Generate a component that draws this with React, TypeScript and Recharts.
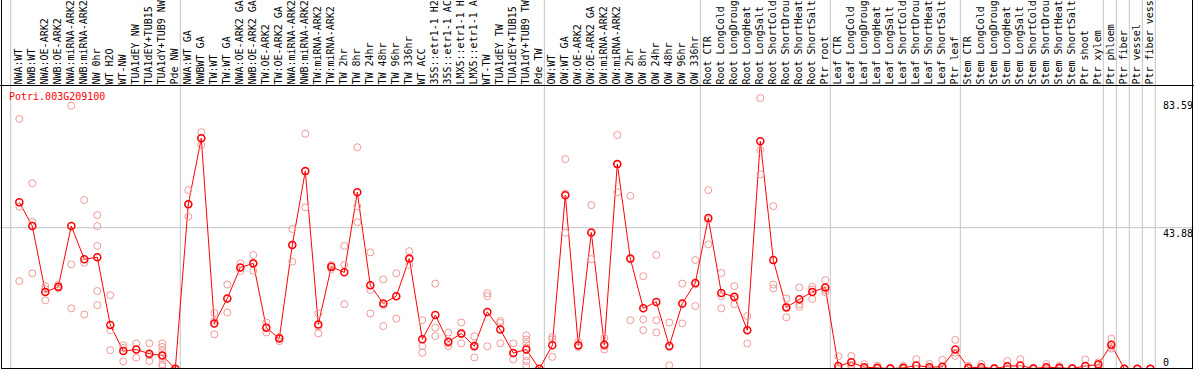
import React from 'react';
import { ComposedChart, Line, Scatter, XAxis, YAxis, ReferenceLine } from 'recharts';

// sample names, left to right
const labels = [
  'NWA:WT', 'NWB:WT', 'NWA:OE-ARK2', 'NWB:OE-ARK2', 'NWA:miRNA-ARK2', 'NWB:miRNA-ARK2',
  'NW 0hr', 'WT H2O', 'WT-NW', 'TUA1dEY NW', 'TUA1dEY+TUB15 NW', 'TUA1dY+TUB9 NW', 'Pde NW',
  'NWA:WT GA', 'NWBWT GA', 'TW:WT', 'TW:WT GA', 'NWA:OE-ARK2 GA', 'NWB:OE-ARK2 GA',
  'TW:OE-ARK2', 'TW:OE-ARK2 GA', 'NWA:miRNA-ARK2', 'NWB:miRNA-ARK2', 'TW:miRNA-ARK2',
  'TW:miRNA-ARK2', 'TW 2hr', 'TW 8hr', 'TW 24hr', 'TW 48hr', 'TW 96hr', 'TW 336hr', 'WT ACC',
  '35S::etr1-1 H2O', '35S::etr1-1 ACC', 'LMX5::etr1-1 H2O', 'LMX5::etr1-1 ACC', 'WT-TW',
  'TUA1dEY TW', 'TUA1dEY+TUB15 TW', 'TUA1dY+TUB9 TW', 'Pde TW',
  'OW:WT', 'OW:WT GA', 'OW:OE-ARK2', 'OW:OE-ARK2 GA', 'OW:miRNA-ARK2', 'OW:miRNA-ARK2',
  'OW 2hr', 'OW 8hr', 'OW 24hr', 'OW 48hr', 'OW 96hr', 'OW 336hr',
  'Root CTR', 'Root LongCold', 'Root LongDrought', 'Root LongHeat', 'Root LongSalt',
  'Root ShortCold', 'Root ShortDrought', 'Root ShortHeat', 'Root ShortSalt', 'Ptr root',
  'Leaf CTR', 'Leaf LongCold', 'Leaf LongDrought', 'Leaf LongHeat', 'Leaf LongSalt',
  'Leaf ShortCold', 'Leaf ShortDrought', 'Leaf ShortHeat', 'Leaf ShortSalt', 'Ptr leaf',
  'Stem CTR', 'Stem LongCold', 'Stem LongDrought', 'Stem LongHeat', 'Stem LongSalt',
  'Stem ShortCold', 'Stem ShortDrought', 'Stem ShortHeat', 'Stem ShortSalt', 'Ptr shoot',
  'Ptr xylem', 'Ptr phloem', 'Ptr fiber', 'Ptr vessel', 'Ptr fiber vessel',
];

// mean expression per sample
const means = [
  51.8, 44.4, 23.9, 25.5, 44.4, 34.1, 34.7, 13.6, 5.5, 6.0, 4.7, 4.1, 0,
  51.2, 71.7, 14.1, 21.9, 31.5, 32.8, 12.8, 9.4, 38.5, 61.5, 13.8, 31.7, 30.0, 54.9,
  26.0, 20.3, 22.6, 34.3, 9.2, 16.7, 8.4, 11.0, 7.0, 17.7, 12.2, 4.9, 6.0, 0,
  7.3, 54.0, 7.3, 42.4, 7.5, 63.7, 34.3, 18.8, 20.8, 7.1, 20.3, 26.7,
  46.9, 23.6, 22.4, 12.0, 70.8, 33.8, 19.1, 21.6, 23.9, 25.3,
  0.9, 2.0, 0.5, 0.3, 0.1, 0.3, 1.0, 0.5, 0.6, 6.0,
  0.3, 0.5, 0.1, 0.8, 1.0, 0.1, 0.5, 0.3, 0.1, 0.9,
  1.3, 7.5, 0, 0, 0,
];

// individual replicates per sample
const reps = [
  [77.7, 50.4, 27.3], [57.7, 45.7, 29.7], [25.7, 21.3, 24.8], [26.2, 25.0, 25.3],
  [81.8, 32.5, 18.8], [52.5, 33.0, 16.9], [47.8, 44.4, 38.2, 24.2, 19.8], [22.9, 12.0, 5.8],
  [7.3, 6.5, 2.3], [7.9, 6.0, 3.5], [7.9, 4.2, 2.4], [7.9, 6.8, 5.5, 4.2, 3.2, 1.4, 0.8],
  [0, 0, 0],
  [55.6, 51.0, 47.3], [73.6, 71.8, 69.6], [17.4, 14.9, 10.7], [26.2, 21.9, 17.5],
  [32.8, 31.4, 30.4], [35.4, 32.5, 30.5], [14.4, 12.8, 11.3], [9.7, 9.9, 8.6],
  [43.5, 38.6, 33.3], [73.1, 61.3, 50.2], [17.2, 13.2, 11.0], [32.3, 31.8, 31.0],
  [38.2, 32.3, 20.1], [68.9, 50.6, 45.6], [36.2, 24.5, 17.2], [27.8, 19.8, 13.3],
  [29.7, 22.6, 15.6], [36.6, 34.0, 32.3], [15.1, 7.1, 5.0], [26.5, 12.8, 10.2],
  [11.3, 7.9, 7.0], [14.4, 10.7, 7.9], [10.1, 7.4, 3.5], [22.6, 23.5, 7.0],
  [14.9, 14.3, 7.9], [7.9, 4.8, 2.9], [10.4, 9.1, 7.9, 6.6, 3.9, 2.4, 0.9], [0, 0, 0],
  [9.9, 9.2, 3.7], [65.2, 54.5, 42.3], [8.4, 6.8, 6.9], [50.9, 42.3, 34.1],
  [9.6, 7.0, 6.0], [72.7, 63.5, 54.9], [53.8, 34.0, 15.1], [28.8, 15.4, 12.0],
  [35.4, 15.1, 11.3], [14.4, 6.8, 1.1], [26.5, 20.1, 14.1], [33.8, 26.2, 19.5],
  [55.6, 46.3, 38.7], [29.8, 22.6, 18.8], [25.7, 21.9, 20.1], [16.4, 12.0, 7.9],
  [84.2, 68.1, 60.5], [50.6, 26.2, 25.0], [21.9, 19.4, 16.0], [25.3, 20.1, 19.3],
  [25.5, 24.7, 21.7], [27.6, 24.5, 23.8],
  [3.9, 0, 0], [4.0, 1.2, 0.8], [1.5, 0, 0], [1.0, 0, 0], [0.3, 0, 0],
  [0.9, 0, 0], [3.0, 0, 0], [1.5, 0, 0], [2.8, 0, 0], [9.0, 5.0, 4.0],
  [1.0, 0, 0], [1.5, 0, 0], [0.3, 0, 0], [2.4, 0, 0], [3.0, 0, 0],
  [0.3, 0, 0], [1.5, 0, 0], [0.9, 0, 0], [0.3, 0, 0], [2.9, 0, 0],
  [2.0, 1.5, 0.4], [9.4, 6.8, 6.3], [0, 0, 0], [0, 0, 0], [0, 0, 0],
];

const yTicks = [0, 43.88, 83.59];
// last sample index of each group (a grey rule follows it)
const groupEnds = [12, 40, 52, 62, 72, 83, 84, 85, 86, 87];
const geneId = 'Potri.003G209100';
// the header row only has room for this many characters
const MAX_CHARS = 14;

const meanData = means.map((mean, i) => ({ i, mean }));
const repData = reps.flatMap((vals, i) => vals.map((v) => ({ i, v })));
const dividers = [-0.66, ...groupEnds.map((k) => k + 0.385)];

const FONT = '"DejaVu Sans Mono", monospace';
const RED = '#ff0000';
const PINK = '#f09898';
const GREY = '#c4c4c4';

const LabelTick = (props: any) => {
  const { x, payload } = props;
  return (
    <text
      transform={`translate(${x + 2.5}, 84.5) rotate(-90)`}
      fontFamily={FONT}
      fontSize={10}
      fill="#000"
    >
      {labels[payload.value].slice(0, MAX_CHARS)}
    </text>
  );
};

const ValueTick = (props: any) => {
  const { y, payload } = props;
  return (
    <text x={1163} y={Math.min(y + 9.3, 366)} fontFamily={FONT} fontSize={10} fill="#000">
      {payload.value}
    </text>
  );
};

const RepDot = (props: any) => (
  <circle cx={props.cx} cy={props.cy} r={3.5} fill="none" stroke={PINK} strokeWidth={1} />
);

const MeanDot = (props: any) => (
  <circle key={props.index} cx={props.cx} cy={props.cy} r={3.5} fill="none" stroke={RED} strokeWidth={1.5} />
);

export default function App() {
  return (
    <div style={{ position: 'absolute', left: 0, top: 0, width: 1194, height: 370, background: '#fff' }}>
      <ComposedChart width={1194} height={370} margin={{ top: -1, right: -1, bottom: 1.2, left: 0 }}>
        <XAxis
          type="number"
          dataKey="i"
          domain={[-1.4846, 90.36]}
          orientation="top"
          height={1}
          ticks={labels.map((_, i) => i)}
          interval={0}
          axisLine={false}
          tickLine={false}
          tick={(p: any) => <LabelTick key={p.index} {...p} />}
          allowDataOverflow
        />
        <YAxis
          type="number"
          orientation="right"
          width={1}
          domain={[0, 114.7]}
          ticks={yTicks}
          interval={0}
          axisLine={false}
          tickLine={false}
          tick={(p: any) => <ValueTick key={p.index} {...p} />}
          allowDataOverflow
        />
        {dividers.map((d) => (
          <ReferenceLine key={d} x={d} stroke={GREY} strokeWidth={1} />
        ))}
        <ReferenceLine y={43.88} stroke={GREY} strokeWidth={1} />
        <Scatter data={repData} dataKey="v" shape={<RepDot />} isAnimationActive={false} />
        <Line
          data={meanData}
          dataKey="mean"
          type="linear"
          stroke={RED}
          strokeWidth={1}
          dot={<MeanDot />}
          activeDot={false}
          isAnimationActive={false}
        />
      </ComposedChart>
      <div
        style={{
          position: 'absolute', left: 1, top: 0, width: 1192, height: 369, boxSizing: 'border-box',
          borderLeft: '1px solid #000', borderRight: '1px solid #000', borderBottom: '1px solid #000',
          pointerEvents: 'none',
        }}
      />
      <div style={{ position: 'absolute', left: 0, top: 85, width: 1194, height: 1, background: '#000' }} />
      <div
        style={{
          position: 'absolute', left: 9, top: 92, fontFamily: FONT, fontSize: 10, lineHeight: '10px',
          color: RED, whiteSpace: 'nowrap',
        }}
      >
        {geneId}
      </div>
    </div>
  );
}
